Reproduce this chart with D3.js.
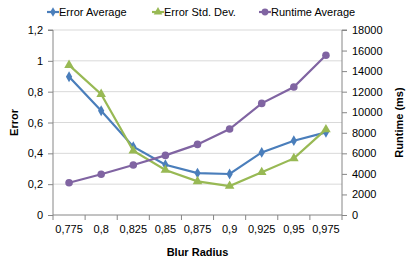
<!DOCTYPE html>
<html>
<head>
<meta charset="utf-8">
<script src="https://cdn.jsdelivr.net/npm/d3@7"></script>
<style>
  body { margin: 0; background: #fff; }
  text { font-family: "Liberation Sans", Arial, sans-serif; }
</style>
</head>
<body>
<div id="chart"></div>
<script>
// data
var radius = ["0,775", "0,8", "0,825", "0,85", "0,875", "0,9", "0,925", "0,95", "0,975"];
var errorAvg = [0.897, 0.676, 0.443, 0.326, 0.272, 0.266, 0.406, 0.482, 0.536];
var errorStd = [0.972, 0.784, 0.417, 0.292, 0.218, 0.188, 0.277, 0.367, 0.555];
var runtimeAvg = [3140, 3960, 4860, 5800, 6870, 8360, 10860, 12450, 15550];
var errorTicks = [0, 0.2, 0.4, 0.6, 0.8, 1, 1.2];
var runtimeTicks = [0, 2000, 4000, 6000, 8000, 10000, 12000, 14000, 16000, 18000];

var width = 411, height = 266;
var margin = {left: 53, right: 69, top: 30, bottom: 51};
var w = width - margin.left - margin.right;
var h = height - margin.top - margin.bottom;

var svg = d3.select("#chart").append("svg")
  .attr("width", width)
  .attr("height", height);

var chart = svg.append("g")
  .attr("transform", `translate(${margin.left},${margin.top})`);

var x = d3.scaleBand().domain(radius).range([0, w]);
var yL = d3.scaleLinear().domain([0, 1.2]).range([h, 0]);
var yR = d3.scaleLinear().domain([0, 18000]).range([h, 0]);

var fmt = function(d){ return String(d).replace(".", ","); };

// gridlines
chart.append("g")
  .selectAll("line")
  .data(errorTicks.filter(function(d){ return d > 0; }))
  .enter().append("line")
    .attr("x1", 0).attr("x2", w)
    .attr("y1", function(d){ return yL(d); })
    .attr("y2", function(d){ return yL(d); })
    .attr("stroke", "#d9d9d9")
    .attr("stroke-width", 1);

// left axis
var leftAxis = chart.append("g")
  .call(d3.axisLeft(yL).tickValues(errorTicks).tickFormat(fmt).tickSize(5).tickPadding(5));
// right axis
var rightAxis = chart.append("g")
  .attr("transform", `translate(${w},0)`)
  .call(d3.axisRight(yR).tickValues(runtimeTicks).tickFormat(d3.format("d")).tickSize(5).tickPadding(5));
// bottom axis (ticks at band edges)
var bottomAxis = chart.append("g")
  .attr("transform", `translate(0,${h})`)
  .call(d3.axisBottom(x).tickSize(0).tickPadding(10));
bottomAxis.selectAll(".edge")
  .data(d3.range(radius.length + 1))
  .enter().append("line")
    .attr("class", "edge")
    .attr("x1", function(i){ return i * x.step(); })
    .attr("x2", function(i){ return i * x.step(); })
    .attr("y1", 0).attr("y2", 5)
    .attr("stroke", "#868686");

[leftAxis, rightAxis, bottomAxis].forEach(function(a){
  a.select(".domain").attr("stroke", "#868686");
  a.selectAll(".tick line").attr("stroke", "#868686");
  a.selectAll("text").attr("fill", "#000").style("font-size", "11px")
    .style("font-family", "'Liberation Sans', Arial, sans-serif");
});
leftAxis.select(".domain").attr("d", `M-5,${yL(1.2)}H0V${h}`);
rightAxis.select(".domain").attr("d", `M5,${yR(18000)}H0V${h}`);
bottomAxis.select(".domain").attr("d", `M0,0H${w}`);

var cx = function(d, i){ return x(radius[i]) + x.bandwidth() / 2; };

var series = [
  {name: "Error Average", values: errorAvg, scale: yL, color: "#4a7ebb", shape: d3.symbolDiamond, size: 34},
  {name: "Error Std. Dev.", values: errorStd, scale: yL, color: "#98b954", shape: d3.symbolTriangle, size: 40},
  {name: "Runtime Average", values: runtimeAvg, scale: yR, color: "#8064a2", shape: d3.symbolCircle, size: 45}
];

series.forEach(function(s){
  var line = d3.line()
    .x(cx)
    .y(function(d){ return s.scale(d); });
  chart.append("path")
    .datum(s.values)
    .attr("d", line)
    .attr("fill", "none")
    .attr("stroke", s.color)
    .attr("stroke-width", 2.2);
  chart.append("g")
    .selectAll("path")
    .data(s.values)
    .enter().append("path")
      .attr("d", d3.symbol().type(s.shape).size(s.size))
      .attr("transform", function(d, i){ return `translate(${cx(d, i)},${s.scale(d)})`; })
      .attr("fill", s.color);
});

// axis titles
svg.append("text")
  .attr("transform", `translate(18,${margin.top + h / 2}) rotate(-90)`)
  .attr("text-anchor", "middle")
  .style("font-size", "11px").style("font-weight", "bold")
  .text("Error");
svg.append("text")
  .attr("transform", `translate(403,${margin.top + h / 2}) rotate(-90)`)
  .attr("text-anchor", "middle")
  .style("font-size", "11px").style("font-weight", "bold")
  .text("Runtime (ms)");
svg.append("text")
  .attr("x", margin.left + w / 2).attr("y", 256)
  .attr("text-anchor", "middle")
  .style("font-size", "11px").style("font-weight", "bold")
  .text("Blur Radius");

// legend
var legendX = [47, 152, 259];
var legend = svg.append("g")
  .selectAll("g")
  .data(series)
  .enter().append("g")
    .attr("transform", function(d, i){ return `translate(${legendX[i]},12)`; });
legend.append("line")
  .attr("x1", 0).attr("x2", 12).attr("y1", 0).attr("y2", 0)
  .attr("stroke", function(d){ return d.color; })
  .attr("stroke-width", 2.2);
legend.append("path")
  .attr("d", function(d){ return d3.symbol().type(d.shape).size(d.size * 0.8)(); })
  .attr("transform", "translate(6,0)")
  .attr("fill", function(d){ return d.color; });
legend.append("text")
  .attr("x", 12).attr("y", 4)
  .style("font-size", "11px")
  .text(function(d){ return d.name; });
</script>
</body>
</html>
